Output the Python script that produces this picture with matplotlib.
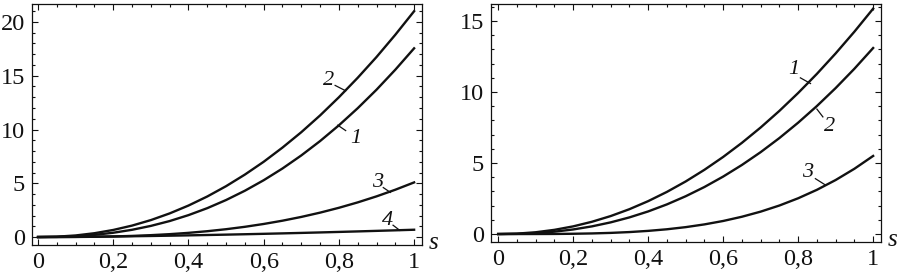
import matplotlib
matplotlib.use("Agg")
import matplotlib.pyplot as plt
from matplotlib.ticker import MultipleLocator, FuncFormatter

plt.rcParams['font.family'] = ['Liberation Serif', 'DejaVu Serif']

# s grid shared by all curves
s = [0, 0.05, 0.1, 0.15, 0.2, 0.25, 0.3, 0.35, 0.4, 0.45, 0.5,
     0.55, 0.6, 0.65, 0.7, 0.75, 0.8, 0.85, 0.9, 0.95, 1.0]

# left panel
left_1 = [0, 0.015, 0.078, 0.203, 0.400, 0.675, 1.037, 1.488, 2.038, 2.687, 3.443,
          4.307, 5.284, 6.376, 7.590, 8.926, 10.39, 11.98, 13.70, 15.56, 17.55]
left_2 = [0, 0.034, 0.149, 0.356, 0.660, 1.065, 1.577, 2.199, 2.929, 3.772, 4.731,
          5.809, 7.00, 8.32, 9.75, 11.31, 13.00, 14.81, 16.74, 18.81, 21.0]
left_3 = [0, 0.001, 0.008, 0.025, 0.056, 0.105, 0.175, 0.269, 0.390, 0.543, 0.729,
          0.952, 1.216, 1.521, 1.871, 2.270, 2.720, 3.223, 3.782, 4.400, 5.08]
left_4 = [0, 0.006, 0.017, 0.033, 0.052, 0.074, 0.099, 0.127, 0.157, 0.190, 0.224,
          0.261, 0.300, 0.341, 0.384, 0.429, 0.476, 0.524, 0.575, 0.626, 0.68]

# right panel
right_1 = [0, 0.029, 0.126, 0.296, 0.540, 0.864, 1.266, 1.750, 2.317, 2.968, 3.702,
           4.523, 5.429, 6.423, 7.503, 8.673, 9.933, 11.28, 12.72, 14.25, 15.87]
right_2 = [0, 0.013, 0.066, 0.167, 0.323, 0.540, 0.822, 1.172, 1.592, 2.088, 2.661,
           3.312, 4.047, 4.864, 5.767, 6.760, 7.842, 9.014, 10.28, 11.64, 13.1]
right_3 = [0, 0.0002, 0.002, 0.007, 0.020, 0.043, 0.081, 0.139, 0.223, 0.336, 0.486,
           0.679, 0.920, 1.218, 1.578, 2.009, 2.519, 3.114, 3.804, 4.596, 5.5]

# curve labels: (text, label pos, leader start, leader end)
left_labels = [("2", (0.773, 14.6), (0.79, 14.1), (0.818, 13.6)),
               ("1", (0.845, 9.2), (0.818, 9.9), (0.797, 10.4)),
               ("3", (0.902, 5.1), (0.918, 4.6), (0.937, 4.15)),
               ("4", (0.930, 1.55), (0.944, 1.1), (0.962, 0.62))]
right_labels = [("1", (0.788, 11.6), (0.806, 11.0), (0.833, 10.6)),
                ("2", (0.885, 7.6), (0.866, 8.25), (0.85, 8.8)),
                ("3", (0.826, 4.35), (0.846, 3.9), (0.873, 3.45))]

fig = plt.figure(figsize=(9, 2.76), dpi=100)
ax1 = fig.add_axes([0.0356, 0.1123, 0.4333, 0.8732])
ax2 = fig.add_axes([0.5456, 0.1232, 0.4333, 0.8623])

comma = FuncFormatter(lambda v, p: ("%g" % round(v, 2)).replace(".", ","))


def style(ax, ylim, ymajor):
    ax.set_xlim(-0.016, 1.021)
    ax.set_ylim(*ylim)
    ax.xaxis.set_major_locator(MultipleLocator(0.2))
    ax.xaxis.set_minor_locator(MultipleLocator(0.05))
    ax.yaxis.set_major_locator(MultipleLocator(ymajor))
    ax.yaxis.set_minor_locator(MultipleLocator(1))
    ax.xaxis.set_major_formatter(comma)
    ax.tick_params(which='both', direction='in', top=True, right=True,
                   labelsize=17.5, width=0.8, colors='#111111')
    ax.tick_params(which='major', length=4)
    ax.tick_params(which='minor', length=2.5)
    ax.tick_params(axis='x', pad=5)
    ax.tick_params(axis='y', pad=5)
    for sp in ax.spines.values():
        sp.set_linewidth(0.9)
        sp.set_color('#111111')
    ax.text(1.03, 0.01, "s", transform=ax.transAxes, fontsize=18,
            style='italic', ha='center', va='center', color='#111111')


for y in (left_1, left_2, left_3, left_4):
    ax1.plot(s, y, color='#111111', lw=1.7)
for y in (right_1, right_2, right_3):
    ax2.plot(s, y, color='#111111', lw=1.7)

style(ax1, (-0.74, 21.67), 5)
style(ax2, (-0.56, 16.2), 5)
ax2.set_xlim(-0.019, 1.021)

for ax, labels in ((ax1, left_labels), (ax2, right_labels)):
    for txt, pos, a, b in labels:
        ax.text(pos[0], pos[1], txt, fontsize=16, style='italic',
                ha='center', va='center', color='#111111')
        ax.plot([a[0], b[0]], [a[1], b[1]], color='#111111', lw=0.9)

fig.savefig("out.png", dpi=100)
